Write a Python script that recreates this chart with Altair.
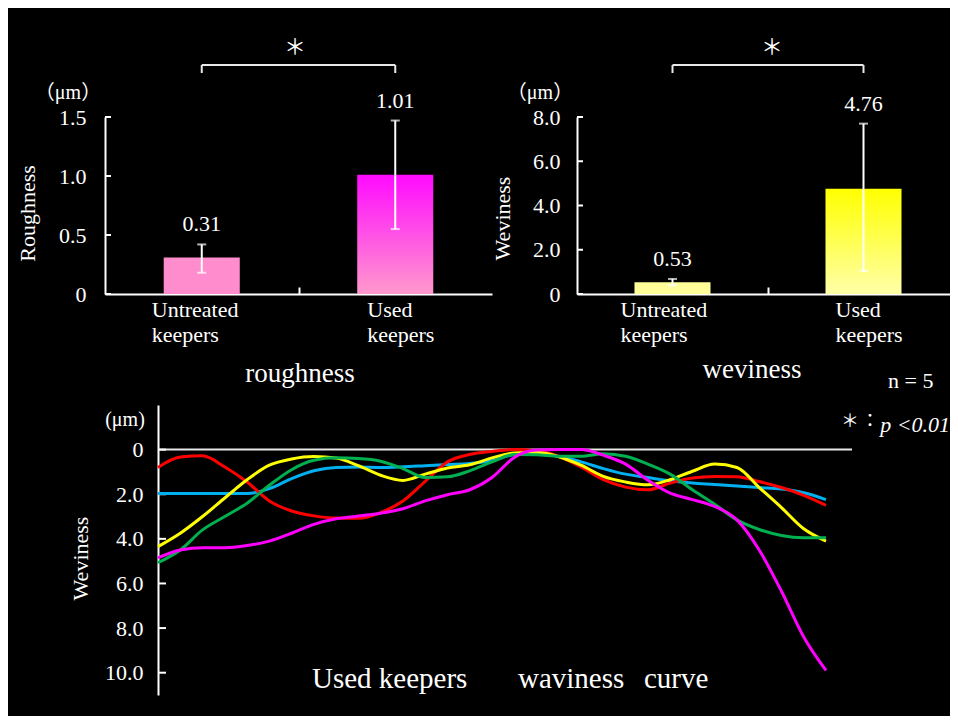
import altair as alt
import pandas as pd

# ---------------- data ----------------
categories = ["Untreated keepers", "Used keepers"]

roughness_mean = [0.31, 1.01]
roughness_low = [0.18, 0.55]
roughness_high = [0.42, 1.47]
roughness_ticks = [0, 0.5, 1.0, 1.5]

weviness_mean = [0.53, 4.76]
weviness_low = [0.38, 1.04]
weviness_high = [0.68, 7.70]
weviness_ticks = [0, 2.0, 4.0, 6.0, 8.0]

curve_ticks = [0, 2.0, 4.0, 6.0, 8.0, 10.0]
position = list(range(31))
keeper_blue = [1.97, 1.97, 1.97, 1.97, 1.97, 1.75, 1.3, 0.95, 0.8, 0.78, 0.8, 0.77, 0.72, 0.67, 0.62, 0.5,
               0.22, 0.17, 0.3, 0.55, 0.85, 1.1, 1.25, 1.4, 1.5, 1.56, 1.63, 1.7, 1.77, 1.93, 2.24]
keeper_red = [0.8, 0.33, 0.28, 0.78, 1.45, 2.3, 2.75, 2.97, 3.07, 3.08, 2.82, 2.3, 1.42, 0.55, 0.22, 0.08,
              0.0, 0.05, 0.3, 0.78, 1.35, 1.68, 1.8, 1.5, 1.27, 1.2, 1.22, 1.43, 1.7, 2.05, 2.5]
keeper_yellow = [4.35, 3.75, 3.0, 2.17, 1.35, 0.7, 0.42, 0.31, 0.38, 0.72, 1.15, 1.38, 1.1, 0.82, 0.68, 0.37,
                 0.15, 0.12, 0.32, 0.7, 1.2, 1.45, 1.58, 1.35, 0.97, 0.65, 0.8, 1.7, 2.6, 3.55, 4.1]
keeper_green = [5.07, 4.5, 3.6, 3.0, 2.4, 1.6, 0.9, 0.48, 0.37, 0.4, 0.52, 0.85, 1.25, 1.22, 0.95, 0.55,
                0.22, 0.23, 0.3, 0.3, 0.18, 0.3, 0.65, 1.1, 1.8, 2.45, 3.15, 3.58, 3.85, 3.95, 3.95]
keeper_magenta = [4.85, 4.5, 4.4, 4.4, 4.3, 4.1, 3.75, 3.35, 3.1, 2.98, 2.85, 2.65, 2.3, 2.02, 1.8, 1.25,
                  0.35, 0.02, 0.0, 0.0, 0.25, 0.65, 1.37, 1.95, 2.24, 2.55, 3.15, 4.5, 6.35, 8.4, 9.9]

curves = [
    (keeper_blue, "#00b0f0"),
    (keeper_red, "#ff0000"),
    (keeper_yellow, "#ffff00"),
    (keeper_green, "#00b050"),
    (keeper_magenta, "#ff00ff"),
]

FONT = "Liberation Serif, DejaVu Serif, serif"
FONT_CJK = "Liberation Serif, Noto Sans CJK JP, serif"
WHITE = "#ffffff"
LABEL_EXPR = "datum.value == 0 ? '0' : format(datum.value, '.1f')"


def text_layer(txt, x, y, size=22, align="center", baseline="alphabetic", font=FONT, style="normal"):
    return alt.Chart(pd.DataFrame({"t": [txt]})).mark_text(
        align=align, baseline=baseline, font=font, fontSize=size, color=WHITE, fontStyle=style
    ).encode(text="t:N", x=alt.value(x), y=alt.value(y))


def bar_panel(mean, low, high, ticks, ymax, x_range, pad_in, pad_out, tick_off, axis_x, label_pad,
              title, title_x, title_y, flat, grad_top, grad_bottom, unit_x, star_x, xtitle, xtitle_x,
              xtitle_y, cat_dx):
    df = pd.DataFrame({"category": categories, "mean": mean, "low": low, "high": high})
    xs = alt.Scale(domain=categories, range=x_range, paddingInner=pad_in, paddingOuter=pad_out)
    ys = alt.Scale(domain=[0, ymax], range=[286, 109], nice=False, zero=False)
    x_axis = alt.Axis(orient="top", offset=-286, values=[categories[0]], tickOffset=tick_off,
                      tickSize=7, tickWidth=2, tickColor=WHITE, labels=False, domain=True,
                      domainColor=WHITE, domainWidth=2, title=None, grid=False)
    y_axis = alt.Axis(orient="left", offset=-axis_x, values=ticks, labelExpr=LABEL_EXPR, ticks=False,
                      tickSize=0, labelPadding=label_pad, labelFont=FONT, labelFontSize=22,
                      labelColor=WHITE, domain=True, domainColor=WHITE, domainWidth=2, grid=False,
                      title=title, titleX=title_x, titleY=title_y, titleAngle=270, titleAlign="center",
                      titleBaseline="middle", titleFont=FONT, titleFontSize=22, titleFontWeight="normal",
                      titleColor=WHITE)
    X = alt.X("category:N", scale=xs, axis=x_axis)

    def Y(f):
        return alt.Y(f, type="quantitative", scale=ys, axis=y_axis)

    base = alt.Chart(df)
    first = base.transform_filter(alt.datum.category == categories[0])
    second = base.transform_filter(alt.datum.category == categories[1])
    bar1 = first.mark_bar(color=flat).encode(x=X, y=Y("mean"))
    grad = alt.Gradient(gradient="linear", x1=0, x2=0, y1=0, y2=1,
                        stops=[alt.GradientStop(color=grad_top, offset=0),
                               alt.GradientStop(color=grad_bottom, offset=1)])
    bar2 = second.mark_bar(color=grad).encode(x=X, y=Y("mean"))
    err = base.mark_rule(color=WHITE, strokeWidth=2).encode(x=X, y=Y("low"), y2="high:Q")
    cap_lo = base.mark_tick(color=WHITE, thickness=2, size=9).encode(x=X, y=Y("low"))
    cap_hi = base.mark_tick(color=WHITE, thickness=2, size=9).encode(x=X, y=Y("high"))
    vals = base.mark_text(dy=-20, font=FONT, fontSize=22, color=WHITE, baseline="middle").encode(
        x=X, y=Y("high"), text=alt.Text("mean:Q", format=".2f"))
    cat_layers = []
    for sub, dx in ((first, cat_dx[0]), (second, cat_dx[1])):
        cat_layers.append(sub.mark_text(lineBreak=" ", lineHeight=25, font=FONT, fontSize=22, color=WHITE,
                                        align="left", dx=dx, baseline="alphabetic").encode(
            x=X, y=alt.value(309), text="category:N"))
    tick_marks = alt.Chart(pd.DataFrame({"tick": ticks})).mark_rule(color=WHITE, strokeWidth=2).encode(
        y=Y("tick"), x=alt.value(axis_x), x2=alt.value(axis_x + 6))
    bracket = alt.Chart(pd.DataFrame({"left": [categories[0]], "right": [categories[1]]})).mark_rule(
        color="#e8e8e8", strokeWidth=2).encode(
        x=alt.X("left:N", scale=xs, axis=x_axis), x2="right:N", y=alt.value(57))
    legs = base.mark_rule(color="#e8e8e8", strokeWidth=2).encode(x=X, y=alt.value(57), y2=alt.value(65))
    star = text_layer("＊", star_x, 39, size=22, baseline="middle", font=FONT_CJK)
    unit = text_layer("（μm）", unit_x, 85, size=20, baseline="middle", font=FONT_CJK)
    xt = text_layer(xtitle, xtitle_x, xtitle_y, size=27)
    return alt.layer(bar1, bar2, err, cap_lo, cap_hi, vals, *cat_layers, tick_marks, bracket, legs,
                     star, unit, xt)


rough = bar_panel(roughness_mean, roughness_low, roughness_high, roughness_ticks, 1.5,
                  [97, 484], 0.607, 0.3035, 96.75, 97, 19, "Roughness", -78, 205,
                  "#ff8ccc", "#ff0aff", "#ff99cc", 60, 287, "roughness", 292, 374, (-50, -28))
wev = bar_panel(weviness_mean, weviness_low, weviness_high, weviness_ticks, 8.0,
                [569, 951], 0.602, 0.301, 95.5, 569, 17, "Weviness", -75, 210,
                "#ffff99", "#ffff00", "#ffffa8", 532, 764, "weviness", 744, 370, (-52, -28))

# ---------------- bottom waviness curves ----------------
ys_l = alt.Scale(domain=[-2, 11], range=[397, 687], nice=False, zero=False)
xs_l = alt.Scale(domain=[0, 30], range=[150, 818], nice=False, zero=False)
y_axis_l = alt.Axis(orient="left", offset=-150, values=curve_ticks, labelExpr=LABEL_EXPR, ticks=False,
                    tickSize=0, labelPadding=15, labelFont=FONT, labelFontSize=22, labelColor=WHITE,
                    domain=True, domainColor=WHITE, domainWidth=2, grid=False,
                    title="Weviness", titleX=-78, titleY=550, titleAngle=270, titleAlign="center",
                    titleBaseline="middle", titleFont=FONT, titleFontSize=22, titleFontWeight="normal",
                    titleColor=WHITE)

zero_line = alt.Chart(pd.DataFrame({"v": [0]})).mark_rule(color="#e8e8e8", strokeWidth=2).encode(
    y=alt.Y("v:Q", scale=ys_l, axis=y_axis_l), x=alt.value(150), x2=alt.value(844))
curve_ticks_marks = alt.Chart(pd.DataFrame({"v": curve_ticks})).mark_rule(color=WHITE, strokeWidth=2).encode(
    y=alt.Y("v:Q", scale=ys_l, axis=y_axis_l), x=alt.value(150), x2=alt.value(158))

line_layers = []
for values, col in curves:
    line_layers.append(
        alt.Chart(pd.DataFrame({"position": position, "depth": values})).mark_line(
            color=col, strokeWidth=3, interpolate="monotone").encode(
            x=alt.X("position:Q", scale=xs_l, axis=None),
            y=alt.Y("depth:Q", scale=ys_l, axis=y_axis_l)))

curve_panel = alt.layer(
    zero_line, curve_ticks_marks, *line_layers,
    text_layer("(μm)", 117, 412, size=20, baseline="middle"),
    text_layer("Used keepers", 304, 680, size=29, align="left"),
    text_layer("waviness", 510, 680, size=29, align="left"),
    text_layer("curve", 636, 680, size=29, align="left"),
    text_layer("n = 5", 880, 380, size=22, align="left"),
    text_layer("＊", 842, 414, size=18, baseline="middle", font=FONT_CJK),
    text_layer("：", 862, 414, size=18, baseline="middle", font=FONT_CJK),
    text_layer("p <0.01", 942, 424, size=22, align="right", style="italic"),
)

chart = alt.layer(rough, wev, curve_panel).resolve_scale(x="independent", y="independent").properties(
    width=942, height=708, padding=0, background="black",
    autosize=alt.AutoSizeParams(type="none"),
).configure_view(strokeWidth=0)

chart.save("out.html", embed_options={"renderer": "svg", "actions": False})
